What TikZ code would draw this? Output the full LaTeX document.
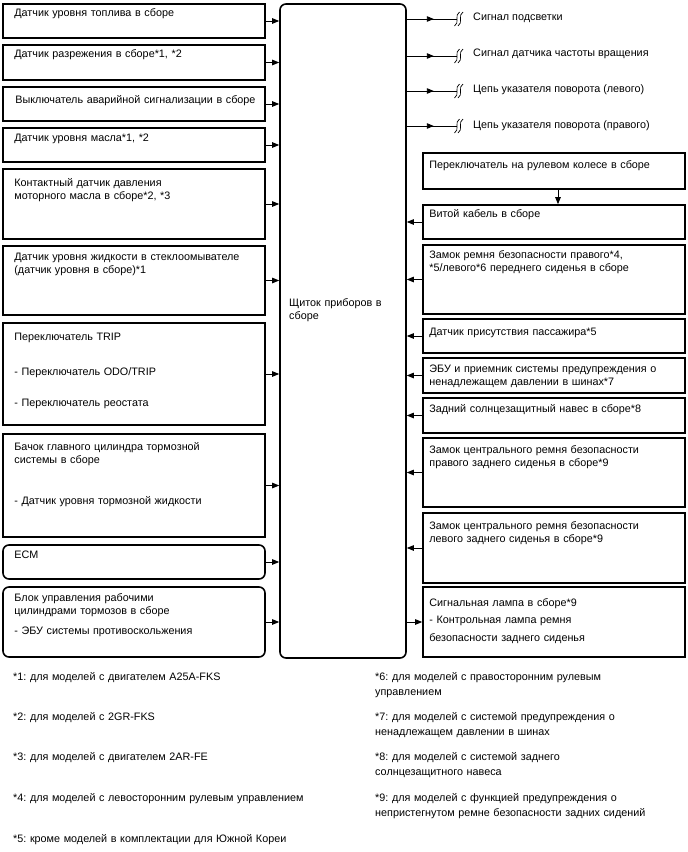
\documentclass[tikz,border=0pt]{standalone}
\usepackage{fontspec}
\setmainfont{Liberation Sans}
\usepackage{tikz}
\usetikzlibrary{arrows.meta,positioning,fit}
\frenchspacing
\tikzset{
  lbox/.style={rectangle, draw, line width=1.6pt, inner sep=0pt},
  lround/.style={lbox, rounded corners=6pt},
  ltext/.style={inner sep=0pt, text height=7.7pt, align=left, text width=252pt,
    font=\fontsize{10.8}{13}\selectfont},
  rtext/.style={ltext, text width=256pt},
  outtext/.style={inner sep=0pt, anchor=base west, font=\fontsize{10.8}{13}\selectfont},
  notetext/.style={inner sep=0pt, anchor=base west, align=left, text width=305pt,
    font=\fontsize{10.8}{15}\selectfont},
  arr/.style={-{Triangle[length=7pt, width=5.5pt]}, line width=0.9pt},
  wire/.style={line width=0.9pt},
  wirebreak/.pic={
    \draw[line width=0.7pt] (2.5,-7) .. controls (-3,-4) and (3,4) .. (-2.5,7);
    \draw[line width=0.7pt] (6,-7) .. controls (0.5,-4) and (6.5,4) .. (1,7);
  },
}

\begin{document}
\begin{tikzpicture}[x=1pt, y=-1pt]
  \useasboundingbox (0,0) rectangle (688,852);

  % combination meter
  \node[lround, fit={(280,4) (406,658)}] (panel) {};
  \node[ltext, text width=110pt, anchor=base west] (panel-t) at (289,306.5) {Щиток приборов в\\сборе};

  % inputs, left column
  \node[lbox, fit={(3,4) (265,38)}] (fuel) {};
  \node[ltext, below right=5pt and 12pt of fuel.north west] (fuel-t) {Датчик уровня топлива в сборе};
  \node[lbox, fit={(3,45) (265,80)}] (vacuum) {};
  \node[ltext, below right=5.5pt and 12pt of vacuum.north west] (vacuum-t) {Датчик разрежения в сборе*1, *2};
  \node[lbox, fit={(3,87) (265,121)}] (hazard) {};
  \node[ltext, below right=9.5pt and 13pt of hazard.north west] (hazard-t) {Выключатель аварийной сигнализации в сборе};
  \node[lbox, fit={(3,128) (265,162)}] (oillvl) {};
  \node[ltext, below right=6.5pt and 12pt of oillvl.north west] (oillvl-t) {Датчик уровня масла*1, *2};
  \node[lbox, fit={(3,169) (265,239)}] (oilpres) {};
  \node[ltext, below right=10.5pt and 12pt of oilpres.north west] (oilpres-t) {Контактный датчик давления\\моторного масла в сборе*2, *3};
  \node[lbox, fit={(3,246) (265,315)}] (washer) {};
  \node[ltext, below right=7.5pt and 12pt of washer.north west] (washer-t) {Датчик уровня жидкости в стеклоомывателе\\(датчик уровня в сборе)*1};
  \node[lbox, fit={(3,323) (265,425)}] (trip) {};
  \node[ltext, below right=10.5pt and 12pt of trip.north west] (trip-t) {Переключатель TRIP\\[22pt]- Переключатель ODO/TRIP\\[18pt]- Переключатель реостата};
  \node[lbox, fit={(3,434) (265,537)}] (brake) {};
  \node[ltext, below right=9.5pt and 12pt of brake.north west] (brake-t) {Бачок главного цилиндра тормозной\\системы в сборе\\[28pt]- Датчик уровня тормозной жидкости};
  \node[lround, fit={(3,545) (265,579)}] (ecm) {};
  \node[ltext, below right=6.5pt and 12pt of ecm.north west] (ecm-t) {ECM};
  \node[lround, fit={(3,587) (265,657)}] (skid) {};
  \node[ltext, below right=7.5pt and 12pt of skid.north west] (skid-t) {Блок управления рабочими\\цилиндрами тормозов в сборе\\[7pt]- ЭБУ системы противоскольжения};

  \foreach \n in {fuel,vacuum,hazard,oillvl,oilpres,washer,trip,brake,ecm,skid}
    \draw[arr] (\n.east) -- (\n.east -| panel.west);

  % outputs to other systems
  \coordinate (o1) at (457,19);
  \coordinate (o2) at (457,56);
  \coordinate (o3) at (457,91);
  \coordinate (o4) at (457,126);
  \foreach \o in {o1,o2,o3,o4} {
    \draw[wire] (panel.east |- \o) -- (\o);
    \draw[arr] (panel.east |- \o) -- ++(27,0);
    \pic at (\o) {wirebreak};
  }
  \node[outtext] (o1-t) at (473,20) {Сигнал подсветки};
  \node[outtext] (o2-t) at (473,56.5) {Сигнал датчика частоты вращения};
  \node[outtext] (o3-t) at (473,92.5) {Цепь указателя поворота (левого)};
  \node[outtext] (o4-t) at (473,128) {Цепь указателя поворота (правого)};

  % inputs, right column
  \node[lbox, fit={(423,153) (685,189)}] (steer) {};
  \node[rtext, below right=8.5pt and 7pt of steer.north west] (steer-t) {Переключатель на рулевом колесе в сборе};
  \node[lbox, fit={(423,205) (685,239)}] (cable) {};
  \node[rtext, below right=5.5pt and 7pt of cable.north west] (cable-t) {Витой кабель в сборе};
  \node[lbox, fit={(423,245) (685,314)}] (beltfront) {};
  \node[rtext, below right=6.5pt and 7pt of beltfront.north west] (beltfront-t) {Замок ремня безопасности правого*4,\\{}*5/левого*6 переднего сиденья в сборе};
  \node[lbox, fit={(423,319) (685,353)}] (occupant) {};
  \node[rtext, below right=9.5pt and 7pt of occupant.north west] (occupant-t) {Датчик присутствия пассажира*5};
  \node[lbox, fit={(423,358) (685,393)}] (tpms) {};
  \node[rtext, below right=7.5pt and 7pt of tpms.north west] (tpms-t) {ЭБУ и приемник системы предупреждения о\\ненадлежащем давлении в шинах*7};
  \node[lbox, fit={(423,398) (685,433)}] (shade) {};
  \node[rtext, below right=7.5pt and 7pt of shade.north west] (shade-t) {Задний солнцезащитный навес в сборе*8};
  \node[lbox, fit={(423,438) (685,507)}] (beltrr) {};
  \node[rtext, below right=8.5pt and 7pt of beltrr.north west] (beltrr-t) {Замок центрального ремня безопасности\\правого заднего сиденья в сборе*9};
  \node[lbox, fit={(423,513) (685,583)}] (beltrl) {};
  \node[rtext, below right=9.5pt and 7pt of beltrl.north west] (beltrl-t) {Замок центрального ремня безопасности\\левого заднего сиденья в сборе*9};
  \node[lbox, fit={(423,587) (685,657)}] (lamp) {};
  \node[rtext, below right=12.5pt and 7pt of lamp.north west] (lamp-t) {Сигнальная лампа в сборе*9\\[4pt]- Контрольная лампа ремня\\[5pt]безопасности заднего сиденья};

  \draw[arr] ([xshift=4pt]steer.south) -- ([xshift=4pt]cable.north);
  \foreach \n in {cable,beltfront,occupant,tpms,shade,beltrr,beltrl}
    \draw[arr] (\n.west) -- (\n.west -| panel.east);
  \draw[arr] (lamp.west -| panel.east) -- (lamp.west);

  % notes
  \node[notetext] (n1) at (13,680.5) {*1: для моделей с двигателем A25A-FKS};
  \node[notetext] (n2) at (13,720) {*2: для моделей с 2GR-FKS};
  \node[notetext] (n3) at (13,760.5) {*3: для моделей с двигателем 2AR-FE};
  \node[notetext] (n4) at (13,801.5) {*4: для моделей с левосторонним рулевым управлением};
  \node[notetext] (n5) at (13,842) {*5: кроме моделей в комплектации для Южной Кореи};
  \node[notetext] (n6) at (375,680.5) {*6: для моделей с правосторонним рулевым\\управлением};
  \node[notetext] (n7) at (375,720) {*7: для моделей с системой предупреждения о\\ненадлежащем давлении в шинах};
  \node[notetext] (n8) at (375,760.5) {*8: для моделей с системой заднего\\солнцезащитного навеса};
  \node[notetext] (n9) at (375,801.5) {*9: для моделей с функцией предупреждения о\\непристегнутом ремне безопасности задних сидений};
\end{tikzpicture}
\end{document}
